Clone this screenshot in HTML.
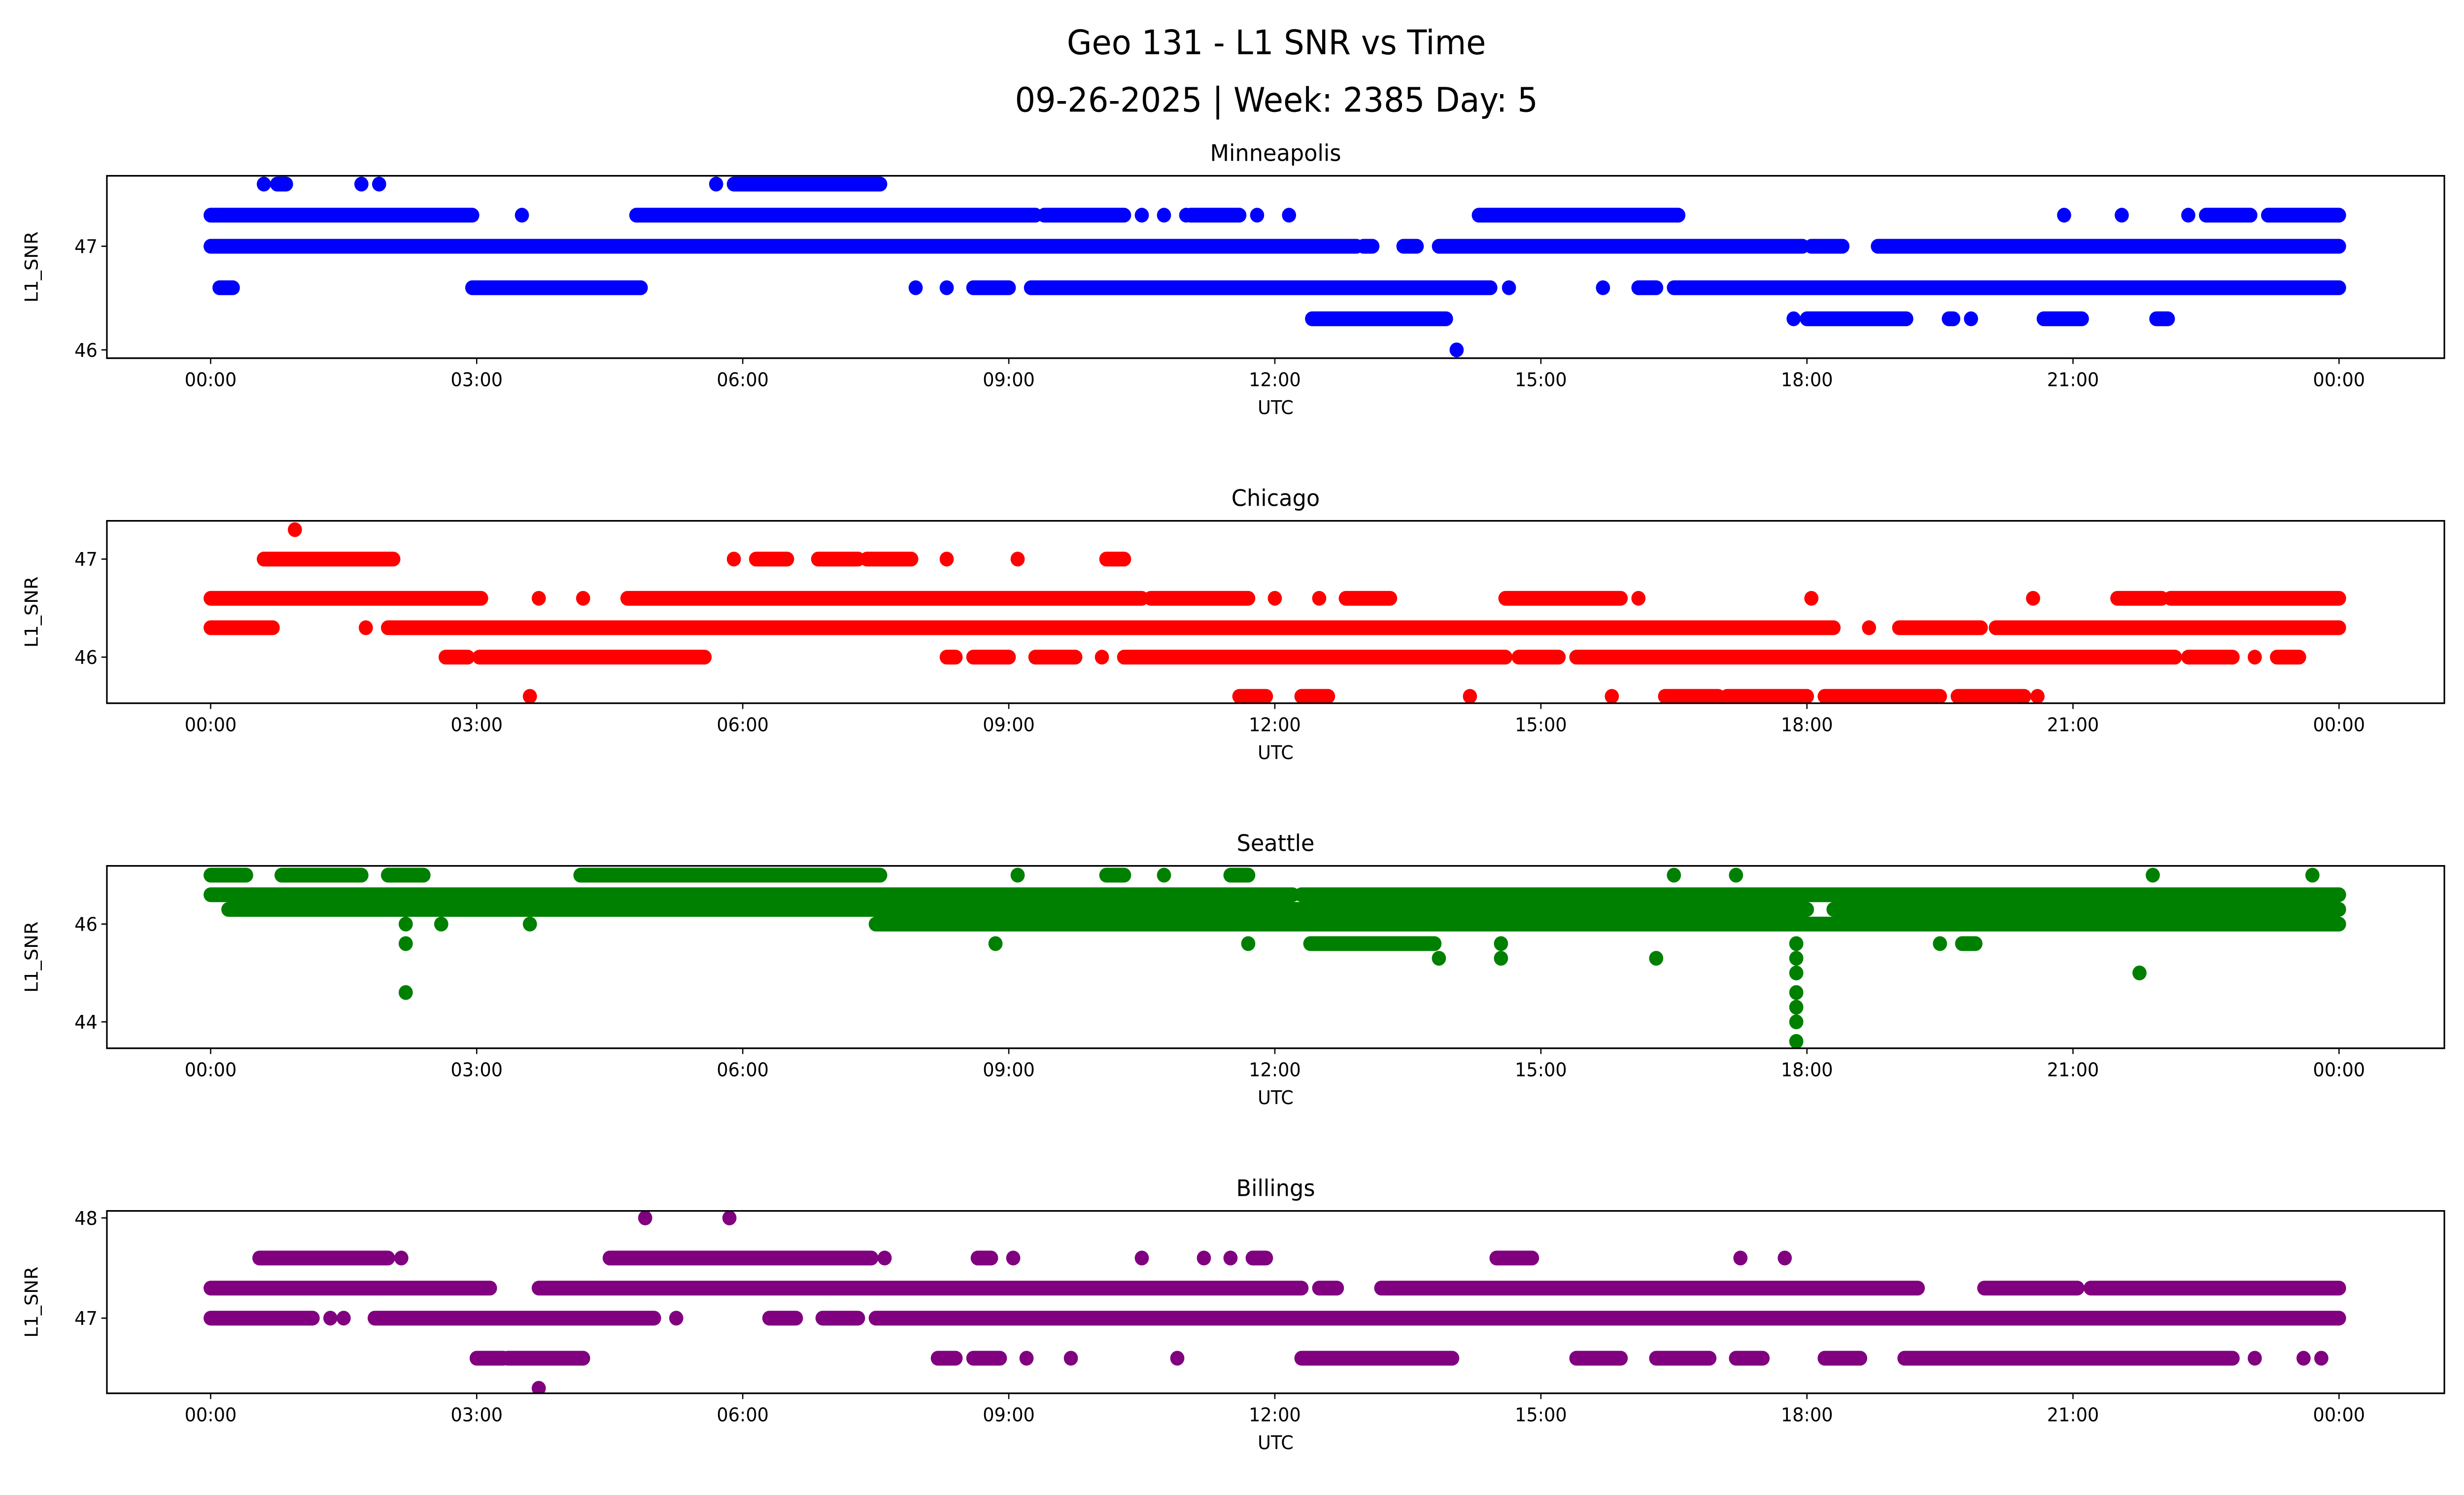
<!DOCTYPE html>
<html><head><meta charset="utf-8">
<style>
html,body{margin:0;padding:0;background:#fff;overflow:hidden;width:100%;height:100%;}
svg{display:block;width:100vw;height:100vh;font-family:"DejaVu Sans","Liberation Sans",sans-serif;}
</style></head>
<body>
<svg id="fig" viewBox="0 0 1567.5 909.9" preserveAspectRatio="none" xmlns="http://www.w3.org/2000/svg">
<rect x="0" y="0" width="1567.5" height="909.9" fill="#fff"/>
<text x="812" y="33" font-size="20.5" text-anchor="middle">Geo 131 - L1 SNR vs Time</text>
<text x="812" y="68" font-size="20.5" text-anchor="middle">09-26-2025 | Week: 2385 Day: 5</text>
<g id="plots"></g>
</svg>
<script>
// Shared x-axis ticks (hours UTC)
const xTickHours = [0, 3, 6, 9, 12, 15, 18, 21, 24];
const xTickLabels = ["00:00","03:00","06:00","09:00","12:00","15:00","18:00","21:00","00:00"];

// Panel titles / colors
const stations = ["Minneapolis","Chicago","Seattle","Billings"];
const colors = ["#0000ff","#ff0000","#008000","#800080"];

// Y ranges and ticks per panel
const yMins = [45.92, 45.53, 43.46, 46.25];
const yMaxs = [47.68, 47.39, 47.19, 48.07];
const yTicks = [[46,47],[46,47],[44,46],[47,48]];

// Runs of observations: [startHour, endHour, L1_SNR]
const minneapolisRuns = [
 [0,12.92,47.0],[13.0,13.1,47.0],[13.45,13.6,47.0],[13.85,17.95,47.0],[18.05,18.4,47.0],[18.8,24,47.0],
 [0,2.95,47.3],[3.51,3.51,47.3],[4.8,9.3,47.3],[9.4,10.3,47.3],[10.5,10.5,47.3],[10.75,10.75,47.3],[11.0,11.0,47.3],[11.05,11.6,47.3],[11.8,11.8,47.3],[12.16,12.16,47.3],[14.3,16.55,47.3],[20.9,20.9,47.3],[21.55,21.55,47.3],[22.3,22.3,47.3],[22.5,23.0,47.3],[23.2,24,47.3],
 [0.6,0.6,47.6],[0.75,0.85,47.6],[1.7,1.7,47.6],[1.9,1.9,47.6],[5.7,5.7,47.6],[5.9,7.55,47.6],
 [0.1,0.25,46.6],[2.95,4.85,46.6],[7.95,7.95,46.6],[8.3,8.3,46.6],[8.6,9.0,46.6],[9.25,14.43,46.6],[14.64,14.64,46.6],[15.7,15.7,46.6],[16.1,16.3,46.6],[16.5,24,46.6],
 [12.42,13.93,46.3],[17.85,17.85,46.3],[18.0,19.12,46.3],[19.6,19.65,46.3],[19.85,19.85,46.3],[20.67,21.1,46.3],[21.94,22.07,46.3],
 [14.05,14.05,46.0]
];
const chicagoRuns = [
 [0.95,0.95,47.3],
 [0.6,2.06,47.0],[5.9,5.9,47.0],[6.15,6.5,47.0],[6.85,7.3,47.0],[7.4,7.9,47.0],[8.3,8.3,47.0],[9.1,9.1,47.0],[10.1,10.3,47.0],
 [0,3.05,46.6],[3.7,3.7,46.6],[4.2,4.2,46.6],[4.7,10.5,46.6],[10.6,11.7,46.6],[12.0,12.0,46.6],[12.5,12.5,46.6],[12.8,13.3,46.6],[14.6,15.9,46.6],[16.1,16.1,46.6],[18.05,18.05,46.6],[20.55,20.55,46.6],[21.5,22.0,46.6],[22.1,24,46.6],
 [0,0.7,46.3],[1.75,1.75,46.3],[2.0,18.3,46.3],[18.7,18.7,46.3],[19.04,19.96,46.3],[20.13,24,46.3],
 [2.65,2.9,46.0],[3.03,5.57,46.0],[8.3,8.4,46.0],[8.6,9.0,46.0],[9.3,9.75,46.0],[10.05,10.05,46.0],[10.3,14.6,46.0],[14.75,15.2,46.0],[15.4,22.15,46.0],[22.3,22.8,46.0],[23.05,23.05,46.0],[23.3,23.55,46.0],
 [3.6,3.6,45.6],[11.6,11.9,45.6],[12.3,12.6,45.6],[14.2,14.2,45.6],[15.8,15.8,45.6],[16.4,17.0,45.6],[17.1,18.0,45.6],[18.2,19.5,45.6],[19.7,20.45,45.6],[20.6,20.6,45.6]
];
const seattleRuns = [
 [0,0.4,47.0],[0.8,1.7,47.0],[2.0,2.4,47.0],[4.17,7.55,47.0],[9.1,9.1,47.0],[10.1,10.3,47.0],[10.75,10.75,47.0],[11.5,11.7,47.0],[16.5,16.5,47.0],[17.2,17.2,47.0],[21.9,21.9,47.0],[23.7,23.7,47.0],
 [0,12.2,46.6],[12.3,15.0,46.6],[15.0,17.8,46.6],[17.8,24,46.6],
 [0.2,18.0,46.3],[18.3,24,46.3],
 [2.2,2.2,46.0],[2.6,2.6,46.0],[3.6,3.6,46.0],[7.5,24,46.0],
 [2.2,2.2,45.6],[8.85,8.85,45.6],[11.7,11.7,45.6],[12.4,13.8,45.6],[14.55,14.55,45.6],[17.88,17.88,45.6],[19.5,19.5,45.6],[19.75,19.9,45.6],
 [13.85,13.85,45.3],[14.55,14.55,45.3],[16.3,16.3,45.3],[17.88,17.88,45.3],
 [17.88,17.88,45.0],[21.75,21.75,45.0],
 [2.2,2.2,44.6],[17.88,17.88,44.6],[17.88,17.88,44.3],[17.88,17.88,44.0],[17.88,17.88,43.6]
];
const billingsRuns = [
 [4.9,4.9,48.0],[5.85,5.85,48.0],
 [0.55,2.0,47.6],[2.15,2.15,47.6],[4.5,7.45,47.6],[7.6,7.6,47.6],[8.65,8.8,47.6],[9.05,9.05,47.6],[10.5,10.5,47.6],[11.2,11.2,47.6],[11.5,11.5,47.6],[11.75,11.9,47.6],[14.5,14.9,47.6],[17.25,17.25,47.6],[17.75,17.75,47.6],
 [0,3.15,47.3],[3.7,12.3,47.3],[12.5,12.7,47.3],[13.2,19.25,47.3],[20.0,21.05,47.3],[21.2,24,47.3],
 [0,1.15,47.0],[1.35,1.35,47.0],[1.5,1.5,47.0],[1.85,5.0,47.0],[5.25,5.25,47.0],[6.3,6.6,47.0],[6.9,7.3,47.0],[7.5,24,47.0],
 [3.0,3.3,46.6],[3.35,4.2,46.6],[8.2,8.4,46.6],[8.6,8.9,46.6],[9.2,9.2,46.6],[9.7,9.7,46.6],[10.9,10.9,46.6],[12.3,14.0,46.6],[15.4,15.9,46.6],[16.3,16.9,46.6],[17.2,17.5,46.6],[18.2,18.6,46.6],[19.1,22.8,46.6],[23.05,23.05,46.6],[23.6,23.6,46.6],[23.8,23.8,46.6],
 [3.7,3.7,46.3]
];
const allRuns = [minneapolisRuns, chicagoRuns, seattleRuns, billingsRuns];

// layout
const axLeft = 68, axRight = 1555;
const axTops = [107, 317, 527, 737];
const axH = 111;
const x0 = 134, pxPerHour = (1488 - 134) / 24;
const R = 4.5;
const NS = "http://www.w3.org/2000/svg";
function xScale(h){ return x0 + h * pxPerHour; }
function mk(tag, attrs, parent){ const e = document.createElementNS(NS, tag); for (const k in attrs) e.setAttribute(k, attrs[k]); parent.appendChild(e); return e; }

const root = document.getElementById('plots');
stations.forEach((name, i) => {
  const top = axTops[i], bot = top + axH;
  const yScale = v => bot - (v - yMins[i]) / (yMaxs[i] - yMins[i]) * axH;
  const g = mk('g', {}, root);
  
  
  const t = mk('text', {x: (axLeft+axRight)/2, y: top - 9, 'font-size': 14, 'text-anchor': 'middle'}, g);
  t.textContent = name;
  
  
  const clip = mk('clipPath', {id: 'clip' + i}, g);
  mk('rect', {x: axLeft, y: top, width: axRight-axLeft, height: axH}, clip);
  const marks = mk('g', {'clip-path': 'url(#clip' + i + ')', fill: colors[i], stroke: colors[i]}, g);
  
  
  allRuns[i].forEach(r => {
    const xa = xScale(r[0]), xb = xScale(r[1]), y = yScale(r[2]);
    let m;
    if (r[1] - r[0] < 0.001) {
      m = mk('circle', {cx: xa, cy: y, r: R, stroke: 'none'}, marks);
    } else {
      m = mk('line', {x1: xa, y1: y, x2: xb, y2: y, 'stroke-width': 2*R, 'stroke-linecap': 'round'}, marks);
    }
    
    
  });
  const frame = mk('rect', {x: axLeft, y: top, width: axRight-axLeft, height: axH, fill: 'none', stroke: '#000', 'stroke-width': 1}, g);
  
  
  xTickHours.forEach((h, k) => {
    const x = xScale(h);
    mk('line', {x1: x, y1: bot, x2: x, y2: bot + 3.5, stroke: '#000', 'stroke-width': 0.8}, g);
    const tl = mk('text', {x: x, y: bot + 17, 'font-size': 11.5, 'text-anchor': 'middle'}, g);
    tl.textContent = xTickLabels[k];
    
    
  });
  yTicks[i].forEach(v => {
    const y = yScale(v);
    mk('line', {x1: axLeft - 3.5, y1: y, x2: axLeft, y2: y, stroke: '#000', 'stroke-width': 0.8}, g);
    const tl = mk('text', {x: axLeft - 6, y: y + 4.2, 'font-size': 11.5, 'text-anchor': 'end'}, g);
    tl.textContent = v;
    
    
  });
  const xl = mk('text', {x: (axLeft+axRight)/2, y: bot + 34, 'font-size': 11.5, 'text-anchor': 'middle'}, g);
  xl.textContent = 'UTC';
  
  
  const yc = (top + bot) / 2;
  const yl = mk('text', {x: 24, y: yc, 'font-size': 11.5, 'text-anchor': 'middle', transform: 'rotate(-90 24 ' + yc + ')'}, g);
  yl.textContent = 'L1_SNR';
  
  
});
</script>
</body></html>
